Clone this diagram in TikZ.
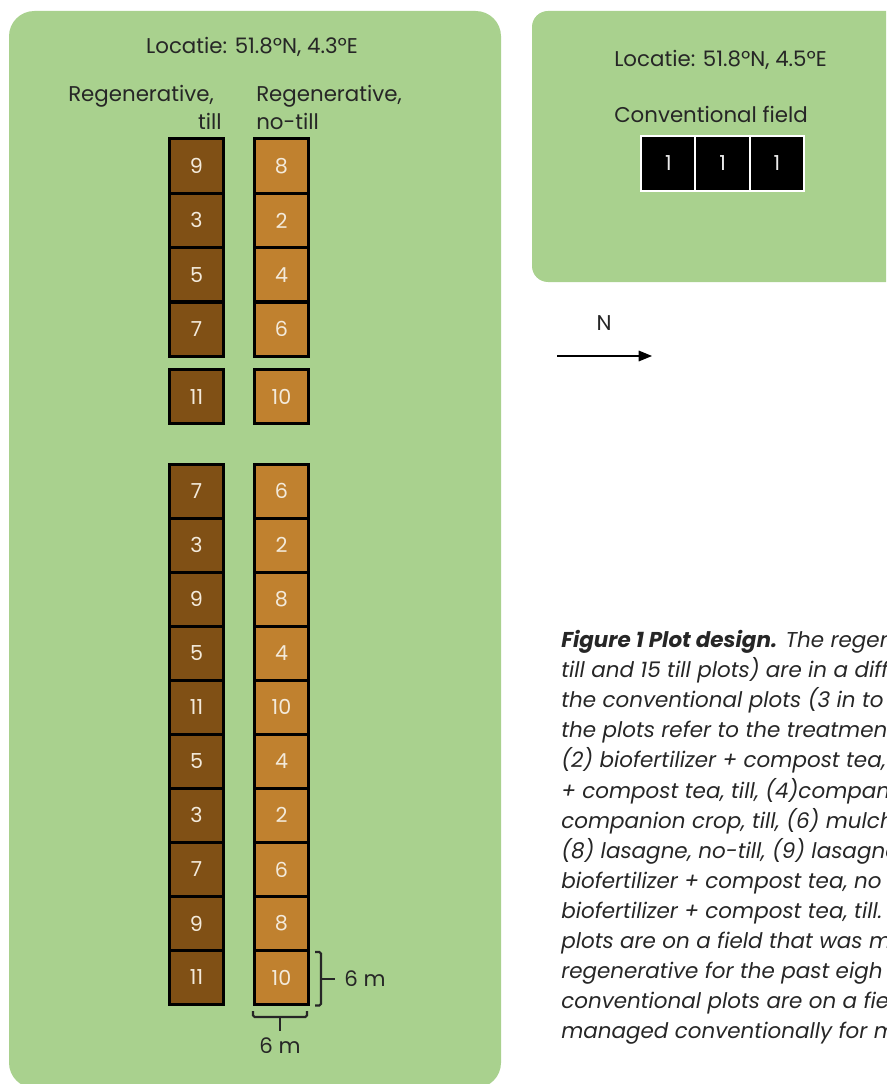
\documentclass[tikz,border=0pt]{standalone}
\usepackage{fontspec}
\setmainfont{Poppins}
\usetikzlibrary{arrows.meta}
\definecolor{fieldgreen}{HTML}{A9D18E}
\definecolor{tillbrown}{HTML}{805015}
\definecolor{notillbrown}{HTML}{C0812F}
\definecolor{numcol}{HTML}{F3EADB}
\definecolor{txt}{HTML}{262626}
\tikzset{
  lbl/.style={font=\fontsize{16pt}{18pt}\selectfont, text=txt, inner sep=0pt},
  plot/.style={draw=black, line width=2.25pt, inner sep=0pt, minimum width=40.5pt, minimum height=40.6pt,
     font=\fontsize{15.5pt}{17pt}\selectfont, text=numcol},
  tillplot/.style={plot, fill=tillbrown},
  notillplot/.style={plot, fill=notillbrown},
  convplot/.style={draw=white, line width=1.5pt, fill=black, inner sep=0pt, minimum width=40.7pt,
     minimum height=41.5pt, font=\fontsize{15.5pt}{17pt}\selectfont, text=white!85!gray},
  brack/.style={draw=txt, line width=1.6pt, rounded corners=1.2pt},
  captxt/.style={font=\fontsize{16.1pt}{18pt}\selectfont\itshape, text=txt, inner sep=0pt, anchor=mid west}
}
\begin{document}
\begin{tikzpicture}[x=0.75pt,y=-0.75pt]
\useasboundingbox (0,0) rectangle (886,1084);
\clip (0,0) rectangle (886,1084);
% fields
\fill[fieldgreen, rounded corners=19pt] (9,11) rectangle (501,1088);
\fill[fieldgreen, rounded corners=12pt] (532,11) rectangle (920,282);
% left field labels
\node[lbl] (loc1) at (252,47) {Locatie: 51.8ºN, 4.3ºE};
\node[lbl, anchor=west] (regt) at (68,96) {Regenerative,};
\node[lbl, anchor=east] (till) at (222,121) {till};
\node[lbl, anchor=west] (regn) at (256,96) {Regenerative,};
\node[lbl, anchor=west] (notill) at (256,121) {no-till};
% upper block
\foreach \n/\m [count=\i from 0] in {9/8, 3/2, 5/4, 7/6}{
  \node[tillplot] (ta\i) at (196.5,{166+\i*54.4}) {\n};
  \node[notillplot] (na\i) at (281.5,{166+\i*54.4}) {\m};
}
% single plots
\node[tillplot] (tb) at (196.5,396.6) {11};
\node[notillplot] (nb) at (281.5,396.6) {10};
% lower block
\foreach \n/\m [count=\i from 0] in {7/6, 3/2, 9/8, 5/4, 11/10, 5/4, 3/2, 7/6, 9/8, 11/10}{
  \node[tillplot, minimum height=40.5pt] (tc\i) at (196.5,{491.2+\i*54.03}) {\n};
  \node[notillplot, minimum height=40.5pt] (nc\i) at (281.5,{491.2+\i*54.03}) {\m};
}
% dimension brackets
\coordinate (vb1) at (315,952);
\coordinate (vb2) at (321,952);
\coordinate (vb3) at (321,1005.5);
\coordinate (vb4) at (315,1005.5);
\coordinate (vbm) at (321,979);
\coordinate (vbt) at (335,979);
\draw[brack] (vb1) -- (vb2) -- (vb3) -- (vb4);
\draw[brack] (vbm) -- (vbt);
\node[lbl] (dimv) at (365,979) {6 m};
\coordinate (hb1) at (253,1011);
\coordinate (hb2) at (253,1017);
\coordinate (hb3) at (307,1017);
\coordinate (hb4) at (307,1011);
\coordinate (hbm) at (280,1017);
\coordinate (hbt) at (280,1031);
\draw[brack] (hb1) -- (hb2) -- (hb3) -- (hb4);
\draw[brack] (hbm) -- (hbt);
\node[lbl] (dimh) at (280,1046) {6 m};
% right field
\node[lbl, anchor=west] (loc2) at (614,60) {Locatie: 51.8ºN, 4.5ºE};
\node[lbl, anchor=west] (conv) at (614,114) {Conventional field};
\node[convplot] (c1) at (668.4,163.3) {1};
\node[convplot] (c2) at (722.6,163.3) {1};
\node[convplot] (c3) at (776.8,163.3) {1};
% north arrow
\node[lbl] (north) at (604,323) {N};
\coordinate (ar1) at (557,356);
\coordinate (ar2) at (652,356);
\draw[line width=0.9pt, -{Triangle[length=10pt,width=8pt]}] (ar1) -- (ar2);
% caption
\node[captxt] (l1) at (561,644) {\textbf{Figure 1 Plot design.} The regen};
\node[captxt] (l2) at (561,674) {till and 15 till plots) are in a diff};
\node[captxt] (l3) at (561,704) {the conventional plots (3 in to};
\node[captxt] (l4) at (561,734) {the plots refer to the treatmen};
\node[captxt] (l5) at (561,764) {(2) biofertilizer + compost tea,};
\node[captxt] (l6) at (561,795) {+ compost tea, till, (4)compan};
\node[captxt] (l7) at (561,825) {companion crop, till, (6) mulch};
\node[captxt] (l8) at (561,855) {(8) lasagne, no-till, (9) lasagne};
\node[captxt] (l9) at (561,885) {biofertilizer + compost tea, no};
\node[captxt] (l10) at (561,915) {biofertilizer + compost tea, till.};
\node[captxt] (l11) at (561,945) {plots are on a field that was m};
\node[captxt] (l12) at (561,975) {regenerative for the past eigh};
\node[captxt] (l13) at (561,1005) {conventional plots are on a fie};
\node[captxt] (l14) at (561,1035) {managed conventionally for m};
\end{tikzpicture}
\end{document}
